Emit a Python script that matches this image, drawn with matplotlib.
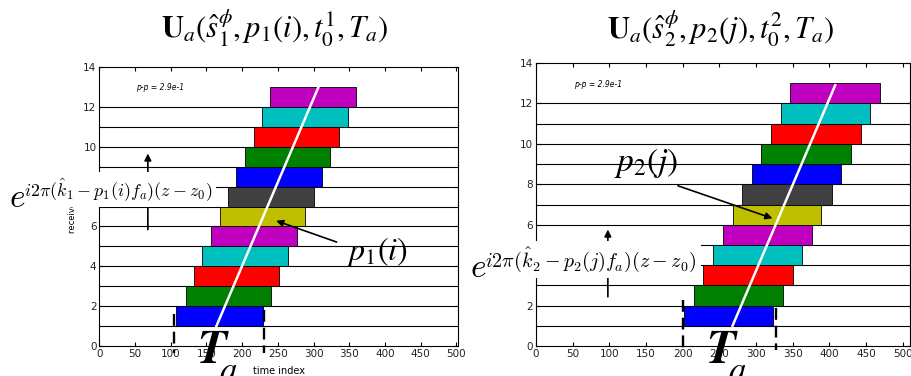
import matplotlib
matplotlib.use("Agg")
import matplotlib.pyplot as plt
import numpy as np

# ---- data ----
colors_seq = ["#0000ff", "#008000", "#ff0000", "#00bfbf", "#bf00bf", "#bfbf00",
              "#404040", "#0000ff", "#008000", "#ff0000", "#00bfbf", "#bf00bf"]
rows = list(range(1, 13))
left_starts = [108, 121, 133, 144, 156, 169, 180, 192, 204, 216, 228, 239]
left_ends = [229, 241, 252, 264, 277, 288, 301, 312, 323, 335, 348, 360]
right_starts = [202, 215, 228, 241, 255, 268, 281, 294, 307, 320, 334, 346]
right_ends = [323, 337, 350, 363, 376, 389, 404, 416, 430, 443, 455, 469]
left_line = ([164, 307], [1, 13])
right_line = ([268, 408], [1, 12.9])
left_dashes = [(105, 1.6, -0.35), (231, 1.8, -0.35)]
right_dashes = [(200, 2.3, -0.2), (327, 1.9, -0.2)]
xticks = list(range(0, 501, 50))
yticks = list(range(0, 15, 2))

W, H = 912, 376
fig = plt.figure(figsize=(W / 100, H / 100), dpi=100)

def px_axes(x0, y0, x1, y1):
    return fig.add_axes([x0 / W, 1 - y1 / H, (x1 - x0) / W, (y1 - y0) / H])

axL = px_axes(99.3, 67, 458.5, 346)
axR = px_axes(536, 63, 910, 346)

def setup(ax, starts, ends, xmax, line, dashes):
    ax.set_xlim(0, xmax)
    ax.set_ylim(0, 14)
    for y in rows:
        ax.axhline(y, color="black", lw=0.8, zorder=1)
    ax.barh(rows, np.array(ends) - np.array(starts), left=starts, height=1.0,
            align="edge", color=colors_seq, edgecolor="black", lw=0.6, zorder=2)
    ax.plot(line[0], line[1], color="white", lw=1.8, zorder=3)
    for xd, ytop, ybot in dashes:
        ax.plot([xd, xd], [ytop, ybot], color="black", lw=1.7, ls=(0, (5, 2.5)),
                zorder=4, clip_on=False)
    ax.set_xticks(xticks)
    ax.set_yticks(yticks)
    ax.tick_params(direction="in", top=True, right=True, labelsize=7.5, length=3,
                   pad=2, colors="black", labelcolor="#222222")
    for s in ax.spines.values():
        s.set_linewidth(0.8)
    ax.text(52, 12.95, "p-p = 2.9e-1", fontsize=5.5, style="italic", va="center")

setup(axL, left_starts, left_ends, 503, left_line, left_dashes)
setup(axR, right_starts, right_ends, 510, right_line, right_dashes)

axL.set_xlabel("time index", fontsize=7)
axL.xaxis.set_label_coords(0.5, -0.072)
axL.set_ylabel("receiver index", fontsize=6)
axL.yaxis.set_label_coords(-0.063, 0.515)

# arrows
ap = dict(arrowstyle="-|>", color="black", lw=1.2, mutation_scale=10)
axL.annotate("", xy=(68, 9.8), xytext=(68, 5.7), arrowprops=ap, zorder=5)
axR.annotate("", xy=(98, 5.9), xytext=(98, 2.3), arrowprops=ap, zorder=5)
axL.annotate("", xy=(244, 6.33), xytext=(336, 5.17), arrowprops=ap, zorder=5)
axR.annotate("", xy=(326, 6.27), xytext=(190, 7.97), arrowprops=ap, zorder=5)

# big formula texts (figure pixel coords)
def ftext(x, y, s, **kw):
    return fig.text(x / W, 1 - y / H, s, **kw)

ftext(275, 28, r"$\mathbf{U}_a(\hat{s}_1^{\phi},p_1(i),t_0^1,T_a)$", fontsize=22,
      ha="center", va="center", math_fontfamily="stix")
ftext(721, 28, r"$\mathbf{U}_a(\hat{s}_2^{\phi},p_2(j),t_0^2,T_a)$", fontsize=22,
      ha="center", va="center", math_fontfamily="stix")

ftext(377, 252, r"$p_1(i)$", fontsize=23, ha="center", va="center", math_fontfamily="stix")
ftext(646, 163, r"$p_2(j)$", fontsize=24, ha="center", va="center", math_fontfamily="stix")

# exponential formulas: large base "e" with exponent text
box = dict(facecolor="white", edgecolor="none", pad=3)
ftext(24, 196, r"$i2\pi(\hat{k}_1 - p_1(i) f_a)(z-z_0)$", fontsize=12.9,
      ha="left", va="baseline", math_fontfamily="cm", zorder=10, bbox=box)
ftext(9, 207, r"$e$", fontsize=24, ha="left", va="baseline",
      math_fontfamily="cm", zorder=11, bbox=dict(facecolor="white", edgecolor="none", pad=0))
ftext(485, 267, r"$i2\pi(\hat{k}_2 - p_2(j) f_a)(z-z_0)$", fontsize=14.4,
      ha="left", va="baseline", math_fontfamily="cm", zorder=10, bbox=box)
ftext(470, 277, r"$e$", fontsize=24, ha="left", va="baseline",
      math_fontfamily="cm", zorder=11, bbox=dict(facecolor="white", edgecolor="none", pad=0))

# T_a labels: bold italic T with a low subscript (cut by the figure edge)
for tx, ax_ in ((197, 219), (706, 728)):
    ftext(tx, 363, r"$\mathbfit{T}$", fontsize=34, ha="left", va="baseline",
          math_fontfamily="stix", zorder=10)
    ftext(ax_, 381, r"$a$", fontsize=25, ha="left", va="baseline",
          math_fontfamily="stix", zorder=10)

fig.savefig("out.png", dpi=100)
